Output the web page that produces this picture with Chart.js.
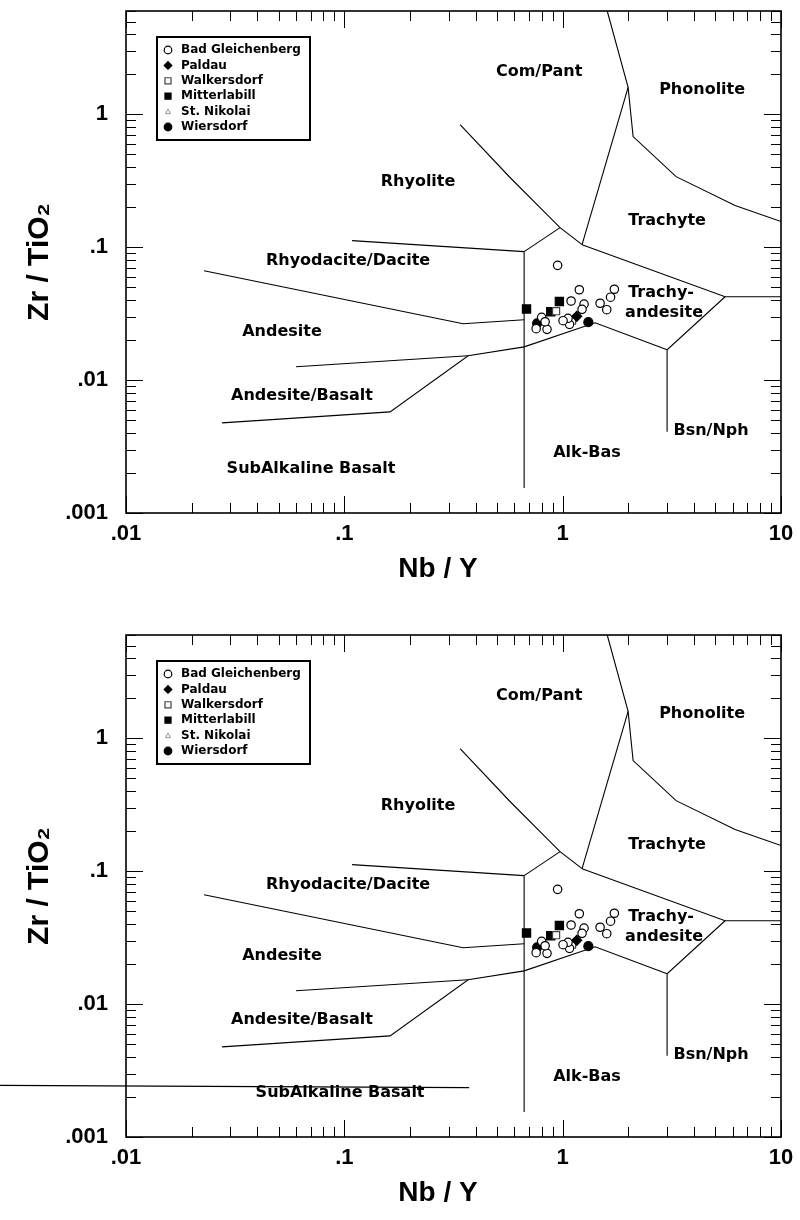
<!DOCTYPE html>
<html><head><meta charset="utf-8">
<script src="https://cdn.jsdelivr.net/npm/chart.js@4.4.1/dist/chart.umd.min.js"></script>
<style>
html,body{margin:0;padding:0;background:#fff;width:800px;height:1220px;overflow:hidden}
.wrap{position:absolute;left:0;width:800px;height:596px}
#w1{top:0}
#w2{top:624px}
canvas{display:block}
</style></head><body>
<div class="wrap" id="w1"><canvas id="c1" width="800" height="596"></canvas></div>
<div class="wrap" id="w2"><canvas id="c2" width="800" height="596"></canvas></div>
<script>
// ---------- data ----------
const xTickLabels = ['.01', '.1', '1', '10'];      // decades 10^-2 .. 10^1
const yTickLabels = ['.001', '.01', '.1', '1'];    // decades 10^-3 .. 10^0
const seriesNames = ['Bad Gleichenberg', 'Paldau', 'Walkersdorf', 'Mitterlabill', 'St. Nikolai', 'Wiersdorf'];

const badGleichenbergNbY   = [0.948, 1.192, 1.725, 1.657, 1.484, 1.592, 1.093, 1.253, 1.227, 1.075, 0.848, 0.801, 1.058, 0.831, 0.756, 1.004];
const badGleichenbergZrTi  = [0.0731, 0.0479, 0.0483, 0.0421, 0.0379, 0.0339, 0.0394, 0.0373, 0.0341, 0.0263, 0.0241, 0.0297, 0.0292, 0.0275, 0.0244, 0.0280];
const paldauNbY            = [1.160];
const paldauZrTi           = [0.0302];
const walkersdorfNbY       = [0.933, 1.104];
const walkersdorfZrTi      = [0.0330, 0.0280];
const mitterlabillNbY      = [0.683, 0.966, 0.882];
const mitterlabillZrTi     = [0.0343, 0.0391, 0.0327];
const stNikolaiNbY         = [1.020];
const stNikolaiZrTi        = [0.0284];
const wiersdorfNbY         = [0.764, 1.311];
const wiersdorfZrTi        = [0.0268, 0.0273];

// field boundaries (Nb/Y, Zr/TiO2)
const lineRhyoliteComPant   = [[0.339, 0.839], [0.574, 0.335], [0.788, 0.199], [0.973, 0.1405], [1.227, 0.1046]];
const lineComPantTrachyte   = [[1.227, 0.1046], [1.994, 1.595]];
const linePhonolite         = [[1.60, 6.0], [1.994, 1.595], [2.102, 0.681], [3.308, 0.340], [6.163, 0.206], [10, 0.156]];
const lineTrachyteTrachyAnd = [[1.227, 0.1046], [5.546, 0.0424], [10, 0.0424]];
const lineBsnNph            = [[5.546, 0.0424], [3.008, 0.0169], [3.008, 0.00408]];
const lineTrachyAndLower    = [[0.666, 0.0178], [1.408, 0.0270], [3.008, 0.0169]];
const lineRhyoliteRhyodac   = [[0.1085, 0.1121], [0.666, 0.0927]];
const lineAlkBasVertical    = [[0.666, 0.0927], [0.666, 0.00154]];
const lineTrachyAndUpper    = [[0.666, 0.0927], [0.973, 0.1405]];
const lineRhyodacAndesite   = [[0.02277, 0.0666], [0.350, 0.0266], [0.666, 0.0285]];
const lineAndesiteAndBas    = [[0.0601, 0.0126], [0.369, 0.01524]];
const lineAndBasSubAlk      = [[0.02754, 0.00477], [0.162, 0.00577], [0.369, 0.01524], [0.666, 0.0178]];
const boundaryLines = [lineRhyoliteComPant, lineComPantTrachyte, linePhonolite, lineTrachyteTrachyAnd, lineBsnNph,
  lineTrachyAndLower, lineRhyoliteRhyodac, lineAlkBasVertical, lineTrachyAndUpper, lineRhyodacAndesite,
  lineAndesiteAndBas, lineAndBasSubAlk];
// stray horizontal line present in the lower copy
const strayLineBottom = [[0.00265, 0.00245], [0.373, 0.00235]];

// field names and their anchor points (Nb/Y, Zr/TiO2)
const fieldNames      = ['Com/Pant', 'Phonolite', 'Rhyolite', 'Trachyte', 'Rhyodacite/Dacite', 'Trachy-', 'andesite', 'Andesite', 'Andesite/Basalt', 'Bsn/Nph', 'Alk-Bas', 'SubAlkaline Basalt'];
const fieldNbY        = [0.780, 4.352, 0.2176, 3.008, 0.104, 2.824, 2.914, 0.0518, 0.064, 4.784, 1.293, 0.0704];
const fieldNbYBottom  = [0.780, 4.352, 0.2176, 3.008, 0.104, 2.824, 2.914, 0.0518, 0.064, 4.784, 1.293, 0.0956];
const fieldZrTi       = [2.08, 1.541, 0.312, 0.1587, 0.0793, 0.0455, 0.0322, 0.0231, 0.00762, 0.00415, 0.00283, 0.00215];

const X_MIN = 0.01, X_MAX = 10, Y_MIN = 0.001, Y_MAX = 6;

// ---------- helpers ----------
const zip = (xs, ys) => xs.map((x, i) => ({x: x, y: ys[i]}));
const pairs = arr => arr.map(p => ({x: p[0], y: p[1]}));
const isDecade = v => Math.abs(Math.log10(v) - Math.round(Math.log10(v))) < 1e-6;

const TICK_FONT = {family: '"Liberation Sans", Arial, sans-serif', size: 22, weight: 'bold'};
const XTITLE_FONT = {family: '"Liberation Sans", Arial, "DejaVu Sans", sans-serif', size: 28, weight: 'bold'};
const YTITLE_FONT = {family: '"Liberation Sans", Arial, "DejaVu Sans", sans-serif', size: 30, weight: 'bold'};

function sampleDatasets() {
  const common = {showLine: false, order: 0, borderColor: '#000', borderWidth: 1.2, isSample: true};
  return [
    Object.assign({}, common, {label: seriesNames[0], data: zip(badGleichenbergNbY, badGleichenbergZrTi), pointStyle: 'circle', pointRadius: 4.2, backgroundColor: '#fff'}),
    Object.assign({}, common, {label: seriesNames[1], data: zip(paldauNbY, paldauZrTi), pointStyle: 'rectRot', pointRadius: 5, backgroundColor: '#000'}),
    Object.assign({}, common, {label: seriesNames[2], data: zip(walkersdorfNbY, walkersdorfZrTi), pointStyle: 'rect', pointRadius: 5, backgroundColor: '#fff', borderColor: '#444'}),
    Object.assign({}, common, {label: seriesNames[3], data: zip(mitterlabillNbY, mitterlabillZrTi), pointStyle: 'rect', pointRadius: 5.8, backgroundColor: '#000'}),
    Object.assign({}, common, {label: seriesNames[4], data: zip(stNikolaiNbY, stNikolaiZrTi), pointStyle: 'triangle', pointRadius: 3, backgroundColor: '#fff', borderColor: '#777', borderWidth: 0.8}),
    Object.assign({}, common, {label: seriesNames[5], data: zip(wiersdorfNbY, wiersdorfZrTi), pointStyle: 'circle', pointRadius: 4.5, backgroundColor: '#000'})
  ];
}

function lineDatasets(withStray) {
  const ds = boundaryLines.map(l => ({
    data: pairs(l), showLine: true, pointRadius: 0, borderColor: '#000', borderWidth: 1.1,
    fill: false, order: 2, tension: 0
  }));
  if (withStray) ds.push({data: pairs(strayLineBottom), showLine: true, pointRadius: 0, borderColor: '#000',
    borderWidth: 1.3, fill: false, order: 2, clip: false});
  return ds;
}

// inward ticks on all four sides plus frame
const frameTicks = {
  id: 'frameTicks',
  afterDraw(chart) {
    const {ctx, chartArea: a} = chart;
    const sx = chart.scales.x, sy = chart.scales.y;
    ctx.save();
    ctx.strokeStyle = '#000';
    ctx.lineWidth = 1;
    const axis = (scale, horiz) => {
      const lo = Math.floor(Math.log10(scale.min)), hi = Math.ceil(Math.log10(scale.max));
      for (let e = lo; e <= hi; e++) {
        for (let m = 1; m <= 9; m++) {
          const v = m * Math.pow(10, e);
          if (v < scale.min * 0.999 || v > scale.max * 1.001) continue;
          const p = Math.round(scale.getPixelForValue(v)) + 0.5;
          const len = m === 1 ? 17 : 10;
          ctx.beginPath();
          if (horiz) {
            ctx.moveTo(p, a.bottom); ctx.lineTo(p, a.bottom - len);
            ctx.moveTo(p, a.top); ctx.lineTo(p, a.top + len);
          } else {
            ctx.moveTo(a.left, p); ctx.lineTo(a.left + len, p);
            ctx.moveTo(a.right, p); ctx.lineTo(a.right - len, p);
          }
          ctx.stroke();
        }
      }
    };
    axis(sx, true);
    axis(sy, false);
    ctx.lineWidth = 1.6;
    ctx.strokeRect(a.left, a.top, a.right - a.left, a.bottom - a.top);
    ctx.restore();
  }
};

// field names
const fieldLabels = {
  id: 'fieldLabels',
  afterDatasetsDraw(chart, args, opts) {
    const {ctx} = chart;
    const sx = chart.scales.x, sy = chart.scales.y;
    ctx.save();
    ctx.fillStyle = '#000';
    ctx.font = 'bold 16px "DejaVu Sans", sans-serif';
    ctx.textAlign = 'center';
    ctx.textBaseline = 'middle';
    fieldNames.forEach((t, i) => {
      ctx.fillText(t, sx.getPixelForValue(opts.nbY[i]), sy.getPixelForValue(fieldZrTi[i]));
    });
    ctx.restore();
  }
};

// legend box in the upper-left corner
function drawMarker(ctx, ds, x, y, r) {
  ctx.save();
  ctx.lineWidth = ds.borderWidth;
  ctx.strokeStyle = ds.borderColor;
  ctx.fillStyle = ds.backgroundColor;
  ctx.beginPath();
  if (ds.pointStyle === 'circle') {
    ctx.arc(x, y, r, 0, Math.PI * 2);
  } else if (ds.pointStyle === 'rectRot') {
    ctx.moveTo(x, y - r); ctx.lineTo(x + r, y); ctx.lineTo(x, y + r); ctx.lineTo(x - r, y); ctx.closePath();
  } else if (ds.pointStyle === 'rect') {
    ctx.rect(x - r * 0.8, y - r * 0.8, r * 1.6, r * 1.6);
  } else if (ds.pointStyle === 'triangle') {
    ctx.moveTo(x, y - r); ctx.lineTo(x + r, y + r * 0.8); ctx.lineTo(x - r, y + r * 0.8); ctx.closePath();
  }
  ctx.fill();
  ctx.stroke();
  ctx.restore();
}
const legendBox = {
  id: 'legendBox',
  afterDraw(chart) {
    const {ctx} = chart;
    const items = chart.data.datasets.filter(d => d.isSample);
    const left = 157, top = 37, w = 153, h = 103;
    ctx.save();
    ctx.fillStyle = '#fff';
    ctx.fillRect(left, top, w, h);
    ctx.strokeStyle = '#000';
    ctx.lineWidth = 2;
    ctx.strokeRect(left, top, w, h);
    ctx.font = 'bold 12px "DejaVu Sans", sans-serif';
    ctx.textBaseline = 'middle';
    ctx.textAlign = 'left';
    items.forEach((d, i) => {
      const y = top + 13 + i * 15.4;
      const r = d.pointStyle === 'triangle' ? 2.5 : 3.8;
      drawMarker(ctx, d, left + 11, y, r);
      ctx.fillStyle = '#000';
      ctx.fillText(d.label, left + 24, y);
    });
    ctx.restore();
  }
};

function makeChart(id, withStray, nbYLabels) {
  return new Chart(document.getElementById(id), {
    type: 'scatter',
    data: {datasets: sampleDatasets().concat(lineDatasets(withStray))},
    plugins: [frameTicks, fieldLabels, legendBox],
    options: {
      responsive: false,
      animation: false,
      devicePixelRatio: 1,
      layout: {padding: {top: 11, right: 19, left: 0, bottom: 0}},
      plugins: {
        legend: {display: false},
        tooltip: {enabled: false},
        fieldLabels: {nbY: nbYLabels}
      },
      scales: {
        x: {
          type: 'logarithmic', min: X_MIN, max: X_MAX, position: 'bottom',
          grid: {display: false, drawTicks: false},
          border: {display: false},
          afterFit: s => { s.height = 83; s.paddingLeft = 0; s.paddingRight = 0; },
          ticks: {
            autoSkip: false, maxRotation: 0, padding: 8, color: '#000', font: TICK_FONT,
            callback: v => isDecade(v) ? xTickLabels[Math.round(Math.log10(v)) + 2] : null
          },
          title: {display: true, text: 'Nb / Y\u00A0\u00A0\u00A0\u00A0', color: '#000', font: XTITLE_FONT, padding: {top: 0, bottom: 10}}
        },
        y: {
          type: 'logarithmic', min: Y_MIN, max: Y_MAX, position: 'left',
          grid: {display: false, drawTicks: false},
          border: {display: false},
          afterFit: s => { s.width = 126; s.paddingTop = 0; s.paddingBottom = 0; },
          ticks: {
            autoSkip: false, padding: 18, color: '#000', font: TICK_FONT,
            callback: v => isDecade(v) ? yTickLabels[Math.round(Math.log10(v)) + 3] : null
          },
          title: {display: true, text: 'Zr / TiO\u2082', color: '#000', font: YTITLE_FONT, padding: {top: 22, bottom: 0}}
        }
      }
    }
  });
}

makeChart('c1', false, fieldNbY);
makeChart('c2', true, fieldNbYBottom);
</script>
</body></html>
